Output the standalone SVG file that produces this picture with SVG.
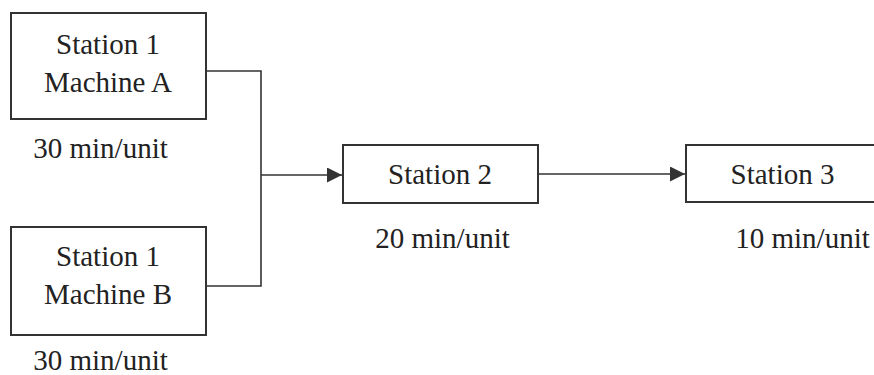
<svg xmlns="http://www.w3.org/2000/svg" width="874" height="375" viewBox="0 0 874 375">
<defs>
<style>
.box{fill:#fff;stroke:#333;stroke-width:2}
.t{font-family:"Liberation Serif","Times New Roman",serif;font-size:29px;fill:#222;text-anchor:middle}
.c{fill:none;stroke:#333;stroke-width:1.6}
</style>
<marker id="arr" markerWidth="16" markerHeight="16" refX="15" refY="7.5" orient="auto" markerUnits="userSpaceOnUse">
<path d="M0,0 L15,7.5 L0,15 Z" fill="#333"/>
</marker>
</defs>
<rect width="874" height="375" fill="#fff"/>
<g id="connectors">
<path class="c" d="M206,71 H261 V286 H206"/>
<path class="c" d="M261,175 H342" marker-end="url(#arr)"/>
<path class="c" d="M538,174 H685" marker-end="url(#arr)"/>
</g>
<g id="station1a">
<rect class="box" x="11" y="13" width="195" height="106"/>
<text class="t" x="108" y="54">Station 1</text>
<text class="t" x="108" y="92">Machine A</text>
<text class="t" x="100.5" y="158">30 min/unit</text>
</g>
<g id="station1b">
<rect class="box" x="11" y="227" width="195" height="108"/>
<text class="t" x="108" y="266">Station 1</text>
<text class="t" x="108" y="304">Machine B</text>
<text class="t" x="100.5" y="370">30 min/unit</text>
</g>
<g id="station2">
<rect class="box" x="343" y="145" width="195" height="58"/>
<text class="t" x="440" y="184">Station 2</text>
<text class="t" x="442.5" y="248">20 min/unit</text>
</g>
<g id="station3">
<rect class="box" x="686" y="145" width="200" height="57"/>
<text class="t" x="782.5" y="184">Station 3</text>
<text class="t" x="802.5" y="248">10 min/unit</text>
</g>
</svg>
